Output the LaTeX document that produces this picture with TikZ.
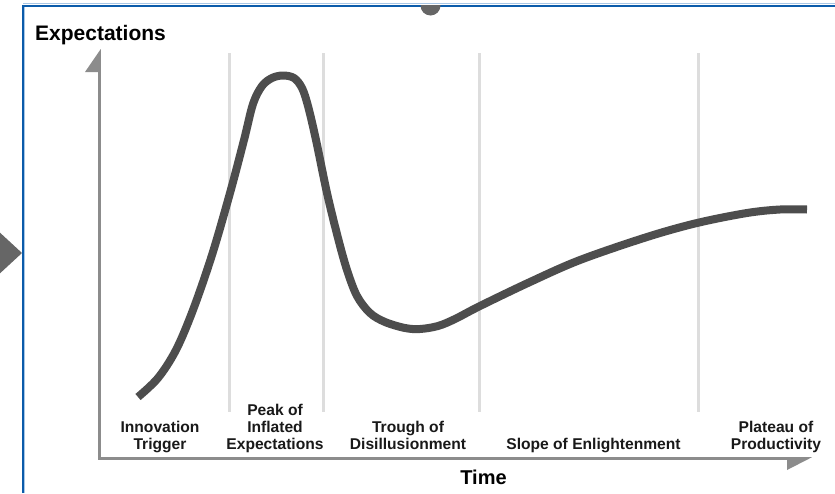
\documentclass[tikz,border=0pt]{standalone}
\usepackage{fontspec}
\setmainfont{Liberation Sans}
\definecolor{bordblue}{HTML}{0B5BAA}
\definecolor{lightblue}{HTML}{A9C7E6}
\definecolor{axisgray}{HTML}{8C8C8C}
\definecolor{curvegray}{HTML}{4D4D4D}
\definecolor{gridgray}{HTML}{DDDDDD}
\definecolor{markgray}{HTML}{666666}
\tikzset{
  border/.style={draw=bordblue, line width=2pt},
  borderlight/.style={draw=lightblue, line width=1pt},
  axisline/.style={draw=axisgray, line width=2.6pt},
  axishead/.style={fill=axisgray, draw=none},
  phaseline/.style={draw=gridgray, line width=3pt},
  hype/.style={draw=curvegray, line width=8pt, line cap=butt, line join=round},
  phase/.style={anchor=base, inner sep=0pt, font=\fontsize{15.6}{17}\selectfont\bfseries, text=black!90},
  axislabel/.style={anchor=base, inner sep=0pt, font=\fontsize{20}{22}\selectfont\bfseries, text=black}
}
\newcommand{\phasetext}[1]{\renewcommand\arraystretch{1}\begin{tabular}[b]{@{}c@{}}#1\end{tabular}}
\begin{document}
\begin{tikzpicture}[x=1pt,y=-1pt]
\useasboundingbox (0,0) rectangle (835,493);
\fill[white] (0,0) rectangle (835,493);
% frame
\draw[borderlight] (23,3.2) -- (835,3.2);
\draw[borderlight] (24.6,5) -- (24.6,493);
\draw[border] (23,493) -- (23,5.5) -- (835,5.5);
\begin{scope}
  \clip (415,5) rectangle (446,20);
  \fill[markgray] (430.5,5.5) circle (10);
\end{scope}
\fill[markgray] (-4,229) -- (22,253) -- (-4,277) -- cycle;
% phase separators
\foreach \x/\n in {229/a,323/b,479/c,698/d}{
  \coordinate (top\n) at (\x,53);
  \coordinate (bot\n) at (\x,412);
  \draw[phaseline] (top\n) -- (bot\n);
}
% axes
\coordinate (origin) at (99.5,458.5);
\coordinate (ytip) at (99.5,72);
\coordinate (xtip) at (787,458.5);
\draw[axisline] (ytip) -- (origin) -- (xtip);
\fill[axishead] (100.8,49) -- (85,72) -- (100.8,72) -- cycle;
\fill[axishead] (787,457.2) -- (812,457.2) -- (787,470) -- cycle;
% curve
\draw[hype] plot[smooth, tension=0.55] coordinates {
 (138,397) (158,378) (176,350) (193,310) (212,255) (230,193) (244,140)
 (253,104) (262,86) (272,78) (283,75.5) (294,78) (302,88) (308,106)
 (316,140) (327,193) (338,238) (347,270) (357,296) (370,313) (385,322)
 (405,328) (420,329) (438,326) (455,319) (480,306) (530,282) (580,260)
 (647,237) (697,223) (747,213) (780,209.5) (807,209.5)};
% labels
\node[axislabel, anchor=base west, font=\fontsize{21}{23}\selectfont\bfseries] (ylab) at (35,40.5) {Expectations};
\node[axislabel] (xlab) at (483.5,484) {Time};
\node[phase] (p1) at (160,449) {\phasetext{Innovation\\Trigger}};
\node[phase] (p2) at (275,449) {\phasetext{Peak of\\Inflated\\Expectations}};
\node[phase] (p3) at (408,449) {\phasetext{Trough of\\Disillusionment}};
\node[phase] (p4) at (593.5,449) {Slope of Enlightenment};
\node[phase] (p5) at (776,449) {\phasetext{Plateau of\\Productivity}};
\end{tikzpicture}
\end{document}
